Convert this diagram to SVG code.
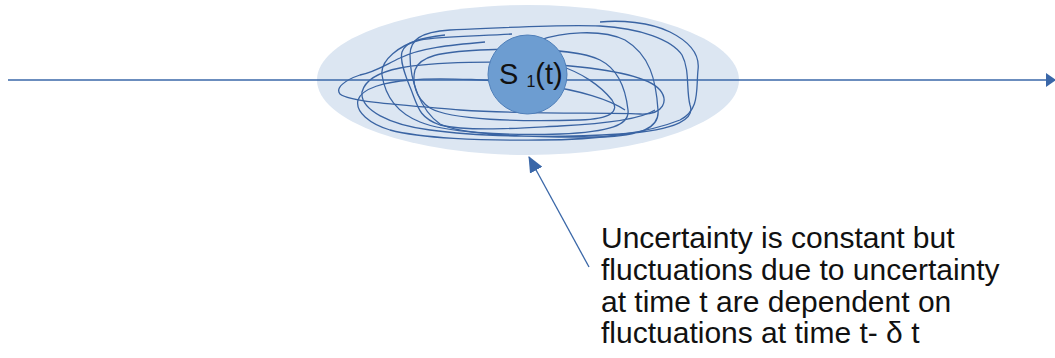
<svg xmlns="http://www.w3.org/2000/svg" width="1055" height="358" viewBox="0 0 1055 358">
<style>
.scr{fill:none;stroke:#3a64a3;stroke-width:1.3;stroke-linejoin:round}
.ln{stroke:#3a67a8;stroke-width:1.3;fill:none}
.txt{font-family:"Liberation Sans",Arial,sans-serif;fill:#111}
</style>
<defs>
<marker id="ah" markerWidth="10" markerHeight="14" refX="9" refY="7" orient="auto" markerUnits="userSpaceOnUse">
<path d="M0,0 L10,7 L0,14 Z" fill="#3a67a8"/>
</marker>
<marker id="ah2" markerWidth="16" markerHeight="14" refX="15" refY="7" orient="auto" markerUnits="userSpaceOnUse">
<path d="M0,0 L16,7 L0,14 Z" fill="#3a67a8"/>
</marker>
</defs>
<g id="cloud">
<ellipse cx="528" cy="80" rx="211" ry="75" fill="#dce6f2"/>
</g>
<g id="scribbles">
<path class="scr" d="M485 42 C450 45 420 48 400 58 C385 65 375 72 360 75 C345 80 335 88 340 94 C350 102 400 105 460 110 C540 115 600 112 640 114 C665 115 668 100 660 90 C650 78 620 70 560 65 C500 60 430 62 400 68 C380 72 365 80 362 92 C360 110 390 125 430 130 C480 137 560 138 620 134 C680 130 695 118 690 105 C686 90 690 70 682 55 C672 40 640 28 600 26 C560 24 500 28 450 30 C420 32 410 40 410 55 C410 80 420 110 440 124 C460 135 540 138 600 137 C640 136 660 128 658 110 C656 80 650 55 625 40 C600 28 560 33 540 40"/>
<path class="scr" d="M512 34 C480 36 440 36 420 40 C400 45 380 60 382 75 C385 95 395 112 420 122 C445 132 500 136 560 134 C610 132 630 125 628 110 C626 92 620 70 600 60 C580 50 530 48 480 50 C440 52 420 56 415 70 C412 82 415 98 430 108 C450 120 520 122 580 120 C610 119 620 112 612 100 C600 85 580 72 560 66"/>
<path class="scr" d="M600 22 C620 20 650 22 670 32 C690 42 700 55 698 70 C696 90 700 110 680 120 C650 132 600 140 540 140 C480 141 420 138 390 130 C370 124 355 112 358 100 C362 88 385 82 410 80 C440 77 500 80 540 85 C580 90 610 100 625 110"/>
<path class="scr" d="M445 35 C420 38 405 42 402 52 C399 62 408 82 412 92 C418 108 420 118 440 125 C470 132 520 128 560 126 C600 124 640 120 655 110"/>
</g>
<g id="connectors">
<line class="ln" x1="8" y1="80" x2="1055" y2="80" marker-end="url(#ah)"/>
<line class="ln" x1="589" y1="267" x2="529" y2="157" marker-end="url(#ah2)"/>
</g>
<g id="s1">
<circle cx="527.5" cy="74.5" r="39.5" fill="#6d9dd1" stroke="#4f7fb9" stroke-width="1"/>
<text class="txt" x="499" y="84" font-size="29">S <tspan font-size="16" dy="3">1</tspan><tspan dy="-3">(t)</tspan></text>
</g>
<g id="label">
<text class="txt" font-size="30" x="601">
<tspan x="601" y="248">Uncertainty is constant but</tspan>
<tspan x="601" y="280">fluctuations due to uncertainty</tspan>
<tspan x="601" y="312">at time t are dependent on</tspan>
<tspan x="601" y="343">fluctuations at time t- δ t</tspan>
</text>
</g>
</svg>
